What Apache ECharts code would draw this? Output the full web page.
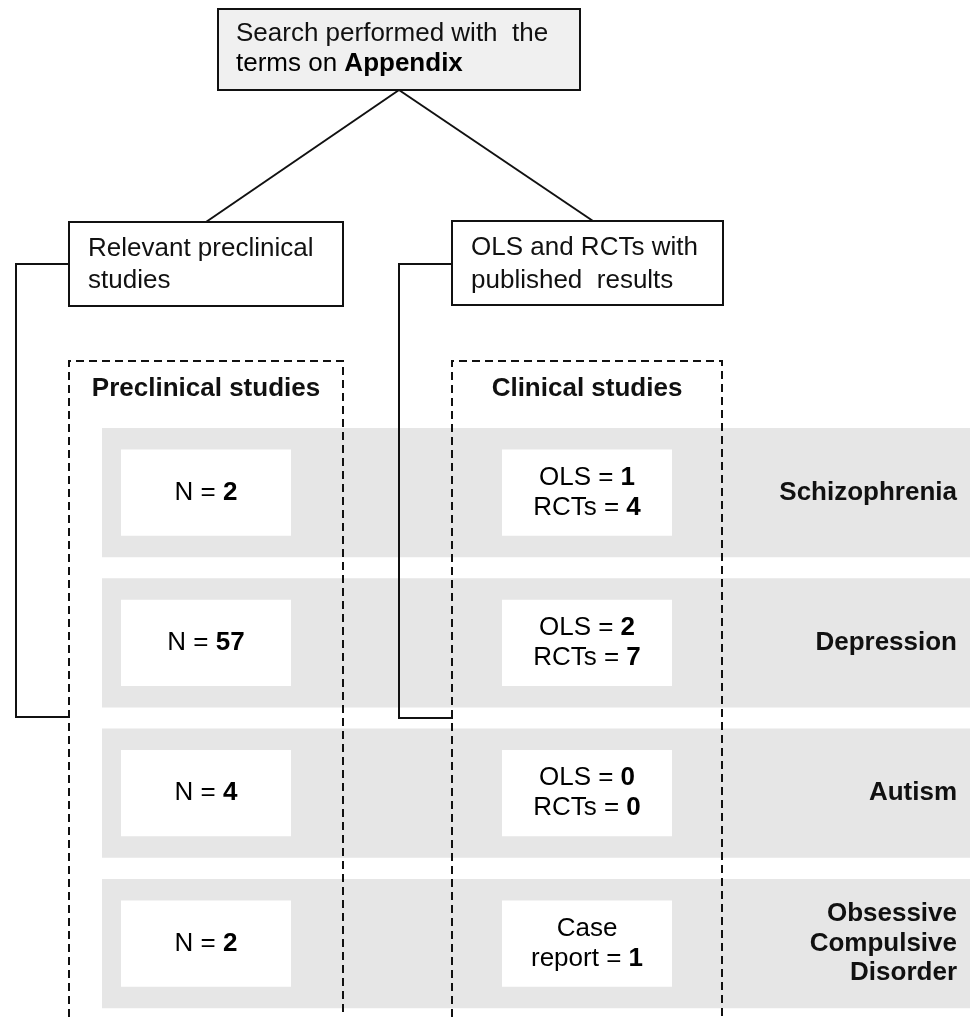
<!DOCTYPE html>
<html>
<head>
<meta charset="utf-8">
<script src="https://cdn.jsdelivr.net/npm/echarts@6/dist/echarts.min.js"></script>
<style>html,body{margin:0;padding:0;background:#fff}#c{width:970px;height:1017px}</style>
</head>
<body>
<div id="c"></div>
<script>
// ---- data ----
const disorders = ['Schizophrenia', 'Depression', 'Autism', 'Obsessive\nCompulsive\nDisorder'];
const preclinicalN = [2, 57, 4, 2];
const olsCounts = [1, 2, 0, null];
const rctCounts = [4, 7, 0, null];
const caseReports = [null, null, null, 1];
const searchLines = ['Search performed with  the', 'terms on ', 'Appendix'];
const branchLeft = ['Relevant preclinical', 'studies'];
const branchRight = ['OLS and RCTs with', 'published  results'];
const groupTitles = ['Preclinical studies', 'Clinical studies'];

const FONT = '"Liberation Sans", Arial, sans-serif';
const FS = 26;
const rich = {
  r: { fontFamily: FONT, fontSize: FS, fontWeight: 'normal', color: '#111', lineHeight: 30 },
  b: { fontFamily: FONT, fontSize: FS, fontWeight: 'bold', color: '#111', lineHeight: 30 }
};

function clinicalText(i) {
  if (caseReports[i] != null) return '{r|Case}\n{r|report = }{b|' + caseReports[i] + '}';
  return '{r|OLS = }{b|' + olsCounts[i] + '}\n{r|RCTs = }{b|' + rctCounts[i] + '}';
}

const chart = echarts.init(document.getElementById('c'), null, { renderer: 'canvas' });

const rowData = disorders.map((d, i) => [i]);

const W = 970, H = 1017, GRID_TOP = 428, ROW_PITCH = 150.3;
const dash = { stroke: '#111', lineWidth: 2, lineDash: [8, 5], fill: null };
const solid = { stroke: '#111', lineWidth: 2, fill: null };

chart.setOption({
  animation: false,
  grid: { left: 0, right: 0, top: GRID_TOP, bottom: 0 },
  xAxis: { type: 'value', min: 0, max: W, show: false },
  yAxis: { type: 'value', min: 0, max: (H - GRID_TOP) / ROW_PITCH, inverse: true, show: false },
  series: [{
    type: 'custom',
    data: rowData,
    z: 2,
    clip: false,
    renderItem: function (params, api) {
      const i = api.value(0);
      const top = api.coord([0, i])[1];
      const bot = api.coord([0, i + 1])[1];
      const h = (bot - top) * 0.86;
      const cy = top + h / 2;
      const gx = api.coord([102, i])[0];
      const gx2 = api.coord([W, i])[0];
      const p1 = api.coord([121, i])[0], p2 = api.coord([291, i])[0];
      const c1 = api.coord([502, i])[0], c2 = api.coord([672, i])[0];
      const lx = api.coord([957, i])[0];
      const bh = h * 0.667;
      const by = cy - bh / 2;
      return {
        type: 'group',
        children: [
          { type: 'rect', shape: { x: gx, y: top, width: gx2 - gx, height: h }, style: { fill: '#e6e6e6' } },
          { type: 'rect', shape: { x: p1, y: by, width: p2 - p1, height: bh }, style: { fill: '#ffffff' } },
          { type: 'rect', shape: { x: c1, y: by, width: c2 - c1, height: bh }, style: { fill: '#ffffff' } },
          { type: 'text', x: (p1 + p2) / 2, y: cy, style: { text: '{r|N = }{b|' + preclinicalN[i] + '}', rich: rich, align: 'center', verticalAlign: 'middle' } },
          { type: 'text', x: (c1 + c2) / 2, y: cy, style: { text: clinicalText(i), rich: rich, align: 'center', verticalAlign: 'middle' } },
          { type: 'text', x: lx, y: cy, style: { text: disorders[i], fontFamily: FONT, fontSize: FS, fontWeight: 'bold', fill: '#111', align: 'right', verticalAlign: 'middle', lineHeight: 29.5 } }
        ]
      };
    }
  }],
  graphic: [
    // top box
    { type: 'rect', z: 10, shape: { x: 218, y: 9, width: 362, height: 81 }, style: { fill: '#f0f0f0', stroke: '#111', lineWidth: 2 } },
    { type: 'text', z: 11, x: 236, y: 34, style: { text: searchLines[0], fontFamily: FONT, fontSize: FS, fill: '#111', verticalAlign: 'middle' } },
    { type: 'text', z: 11, x: 236, y: 64, style: { text: '{r|' + searchLines[1] + '}{b|' + searchLines[2] + '}', rich: rich, verticalAlign: 'middle' } },
    // connector lines
    { type: 'line', z: 10, shape: { x1: 399, y1: 90, x2: 206, y2: 222 }, style: solid },
    { type: 'line', z: 10, shape: { x1: 399, y1: 90, x2: 593, y2: 221 }, style: solid },
    // branch boxes
    { type: 'rect', z: 10, shape: { x: 69, y: 222, width: 274, height: 84 }, style: { fill: '#fff', stroke: '#111', lineWidth: 2 } },
    { type: 'text', z: 11, x: 88, y: 249, style: { text: branchLeft[0], fontFamily: FONT, fontSize: FS, fill: '#111', verticalAlign: 'middle' } },
    { type: 'text', z: 11, x: 88, y: 281, style: { text: branchLeft[1], fontFamily: FONT, fontSize: FS, fill: '#111', verticalAlign: 'middle' } },
    { type: 'rect', z: 10, shape: { x: 452, y: 221, width: 271, height: 84 }, style: { fill: '#fff', stroke: '#111', lineWidth: 2 } },
    { type: 'text', z: 11, x: 471, y: 248, style: { text: branchRight[0], fontFamily: FONT, fontSize: FS, fill: '#111', verticalAlign: 'middle' } },
    { type: 'text', z: 11, x: 471, y: 281, style: { text: branchRight[1], fontFamily: FONT, fontSize: FS, fill: '#111', verticalAlign: 'middle' } },
    // brackets
    { type: 'polyline', z: 10, shape: { points: [[69, 264], [16, 264], [16, 717], [69, 717]] }, style: solid },
    { type: 'polyline', z: 10, shape: { points: [[452, 264], [399, 264], [399, 718], [453, 718]] }, style: solid },
    // dashed group boxes
    { type: 'polyline', z: 10, shape: { points: [[69, 1030], [69, 361], [343, 361], [343, 1030]] }, style: dash },
    { type: 'polyline', z: 10, shape: { points: [[452, 1030], [452, 361], [722, 361], [722, 1030]] }, style: dash },
    { type: 'text', z: 11, x: 206, y: 389, style: { text: groupTitles[0], fontFamily: FONT, fontSize: FS, fontWeight: 'bold', fill: '#111', align: 'center', verticalAlign: 'middle' } },
    { type: 'text', z: 11, x: 587, y: 389, style: { text: groupTitles[1], fontFamily: FONT, fontSize: FS, fontWeight: 'bold', fill: '#111', align: 'center', verticalAlign: 'middle' } }
  ]
});
</script>
</body>
</html>
